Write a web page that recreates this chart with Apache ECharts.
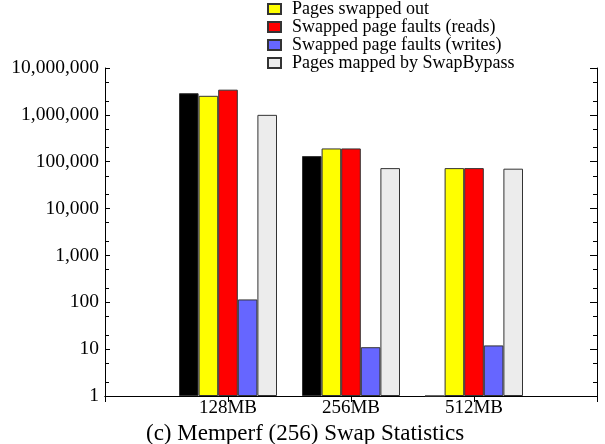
<!DOCTYPE html>
<html>
<head>
<meta charset="utf-8">
<script src="https://cdn.jsdelivr.net/npm/echarts@6/dist/echarts.min.js"></script>
<style>
  html, body { margin: 0; padding: 0; background: #fff; }
  #main { width: 605px; height: 444px; }
</style>
</head>
<body>
<div id="main"></div>
<script>
// categories (padded with blanks so the groups sit at 1/4, 2/4, 3/4 of the axis)
var categories = ['128MB', '256MB', '512MB'];
var swappedIn = [2900000, 132000, 1];
var swappedOut = [2550000, 192000, 73000];
var faultsReads = [3450000, 192000, 73000];
var faultsWrites = [115, 11, 12];
var mappedBypass = [1000000, 73000, 71000];
// minor ticks of the log axis
var minorTicks = [2, 5, 20, 50, 200, 500, 2000, 5000, 20000, 50000, 200000, 500000, 2000000, 5000000];
var majorTicks = [1, 10, 100, 1000, 10000, 100000, 1000000, 10000000];

var FONT = 'Liberation Serif';
var xData = [''].concat(categories, ['']);
function pad(arr) { return [null].concat(arr, [null]); }
function toLog(arr) { return arr.map(function (v) { return Math.log10(v); }); }

var myChart = echarts.init(document.getElementById('main'));

function bar(name, data, color) {
    return {
        name: name,
        type: 'bar',
        xAxisIndex: 0,
        yAxisIndex: 0,
        data: pad(data),
        barWidth: 19.6,
        barGap: '0%',
        itemStyle: { color: color, borderColor: '#333', borderWidth: 1 },
        emphasis: { disabled: true }
    };
}

var tickStyle = { color: '#000', width: 1 };

myChart.setOption({
    animation: false,
    title: {
        text: '(c) Memperf (256) Swap Statistics',
        left: 146,
        top: 422,
        padding: 0,
        textStyle: { fontFamily: FONT, fontSize: 23, fontWeight: 'normal', color: '#000' }
    },
    legend: {
        data: ['Pages swapped out', 'Swapped page faults (reads)', 'Swapped page faults (writes)', 'Pages mapped by SwapBypass'],
        orient: 'vertical',
        left: 267,
        top: 0,
        padding: 0,
        itemGap: 0,
        itemWidth: 13,
        itemHeight: 10,
        icon: 'rect',
        textStyle: { fontFamily: FONT, fontSize: 18, color: '#000', lineHeight: 15.5, padding: [0, 0, 0, 6] }
    },
    grid: { left: 105, right: 8, top: 68, bottom: 48 },
    xAxis: [{
        type: 'category',
        data: xData,
        position: 'bottom',
        boundaryGap: false,
        axisLine: { lineStyle: tickStyle },
        axisTick: { inside: true, length: 6, lineStyle: tickStyle },
        axisLabel: { fontFamily: FONT, fontSize: 19, color: '#000', margin: 3, interval: 0 },
        splitLine: { show: false }
    }, {
        type: 'category',
        data: xData,
        position: 'top',
        boundaryGap: false,
        axisLine: { lineStyle: tickStyle },
        axisTick: { inside: true, length: 6, lineStyle: tickStyle },
        axisLabel: { show: false },
        splitLine: { show: false }
    }],
    yAxis: [{
        type: 'log',
        logBase: 10,
        min: 1,
        max: 10000000,
        position: 'left',
        axisLine: { show: true, lineStyle: tickStyle },
        axisTick: { show: true, inside: true, length: 5, lineStyle: tickStyle },
        axisLabel: {
            fontFamily: FONT, fontSize: 19.5, color: '#000', margin: 6,
            formatter: function (v) { return Math.round(v).toLocaleString('en-US'); }
        },
        splitLine: { show: false }
    }, {
        type: 'value',
        min: 0,
        max: 7,
        position: 'left',
        axisLine: { show: false },
        axisTick: { show: true, inside: true, length: 4, lineStyle: tickStyle, customValues: toLog(minorTicks) },
        axisLabel: { show: false },
        splitLine: { show: false }
    }, {
        type: 'value',
        min: 0,
        max: 7,
        position: 'right',
        axisLine: { show: true, lineStyle: tickStyle },
        axisTick: { show: true, inside: true, length: 7, lineStyle: tickStyle, customValues: toLog(majorTicks) },
        axisLabel: { show: false },
        splitLine: { show: false }
    }, {
        type: 'value',
        min: 0,
        max: 7,
        position: 'right',
        axisLine: { show: false },
        axisTick: { show: true, inside: true, length: 4, lineStyle: tickStyle, customValues: toLog(minorTicks) },
        axisLabel: { show: false },
        splitLine: { show: false }
    }],
    series: [
        bar('Pages swapped in', swappedIn, '#000000'),
        bar('Pages swapped out', swappedOut, '#ffff00'),
        bar('Swapped page faults (reads)', faultsReads, '#ff0000'),
        bar('Swapped page faults (writes)', faultsWrites, '#6666ff'),
        bar('Pages mapped by SwapBypass', mappedBypass, '#ececec')
    ]
});
</script>
</body>
</html>
